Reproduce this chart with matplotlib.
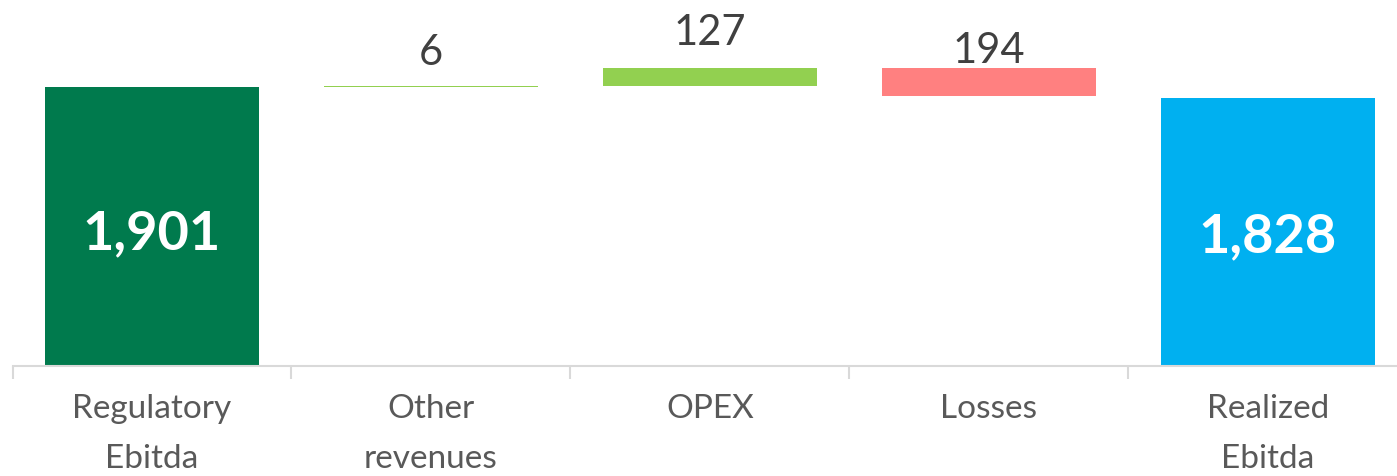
import matplotlib.pyplot as plt
import numpy as np

# waterfall EBITDA
categories = ['Regulatory\nEbitda', 'Other\nrevenues', 'OPEX', 'Losses', 'Realized\nEbitda']
values = [1901, 6, 127, -194, 1828]
is_total = [True, False, False, False, True]
labels = ['1,901', '6', '127', '194', '1,828']
colors = ['#007A4D', '#92D050', '#92D050', '#FF8080', '#00B0F0']

# spostamento verticale delle etichette (pixel)
label_offsets = [-7, 21, 23, 5, -5]

plt.rcParams['font.family'] = ['Lato', 'DejaVu Sans']

fig = plt.figure(figsize=(13.97, 4.76), dpi=100)
W, H = 1397, 476
ymax = 2400
ax = fig.add_axes([12.5 / W, (H - 366) / H, 1395 / W, 352 / H])

bottoms = []
heights = []
running = 0
for v, tot in zip(values, is_total):
    if tot:
        bottoms.append(0)
        heights.append(v)
        running = v
    else:
        if v >= 0:
            bottoms.append(running)
            heights.append(v)
        else:
            bottoms.append(running + v)
            heights.append(-v)
        running += v

x = np.arange(len(categories))
ax.bar(x, heights, bottom=bottoms, width=0.77, color=colors, zorder=2)

for i in range(len(x)):
    if is_total[i]:
        ax.annotate(labels[i], (x[i], bottoms[i] + heights[i] / 2), xytext=(0, label_offsets[i]),
                    textcoords='offset pixels', ha='center', va='center',
                    color='white', fontsize=39, fontweight='bold')
    else:
        ax.annotate(labels[i], (x[i], bottoms[i] + heights[i]), xytext=(0, label_offsets[i]),
                    textcoords='offset pixels', ha='center', va='baseline',
                    color='#404040', fontsize=30)

ax.set_xlim(-0.5, len(x) - 0.5)
ax.set_ylim(0, ymax)
ax.set_yticks([])
for s in ['left', 'right', 'top']:
    ax.spines[s].set_visible(False)
ax.spines['bottom'].set_color('#D9D9D9')
ax.spines['bottom'].set_linewidth(1.5)

ax.set_xticks(x)
ax.set_xticklabels(categories, fontsize=24, color='#595959', linespacing=1.85, va='top')
ax.tick_params(axis='x', which='major', length=0, pad=20)
ax.set_xticks(np.arange(len(x) + 1) - 0.5, minor=True)
ax.tick_params(axis='x', which='minor', length=9, width=1.5, color='#D9D9D9')

fig.savefig('out.png', dpi=100)
